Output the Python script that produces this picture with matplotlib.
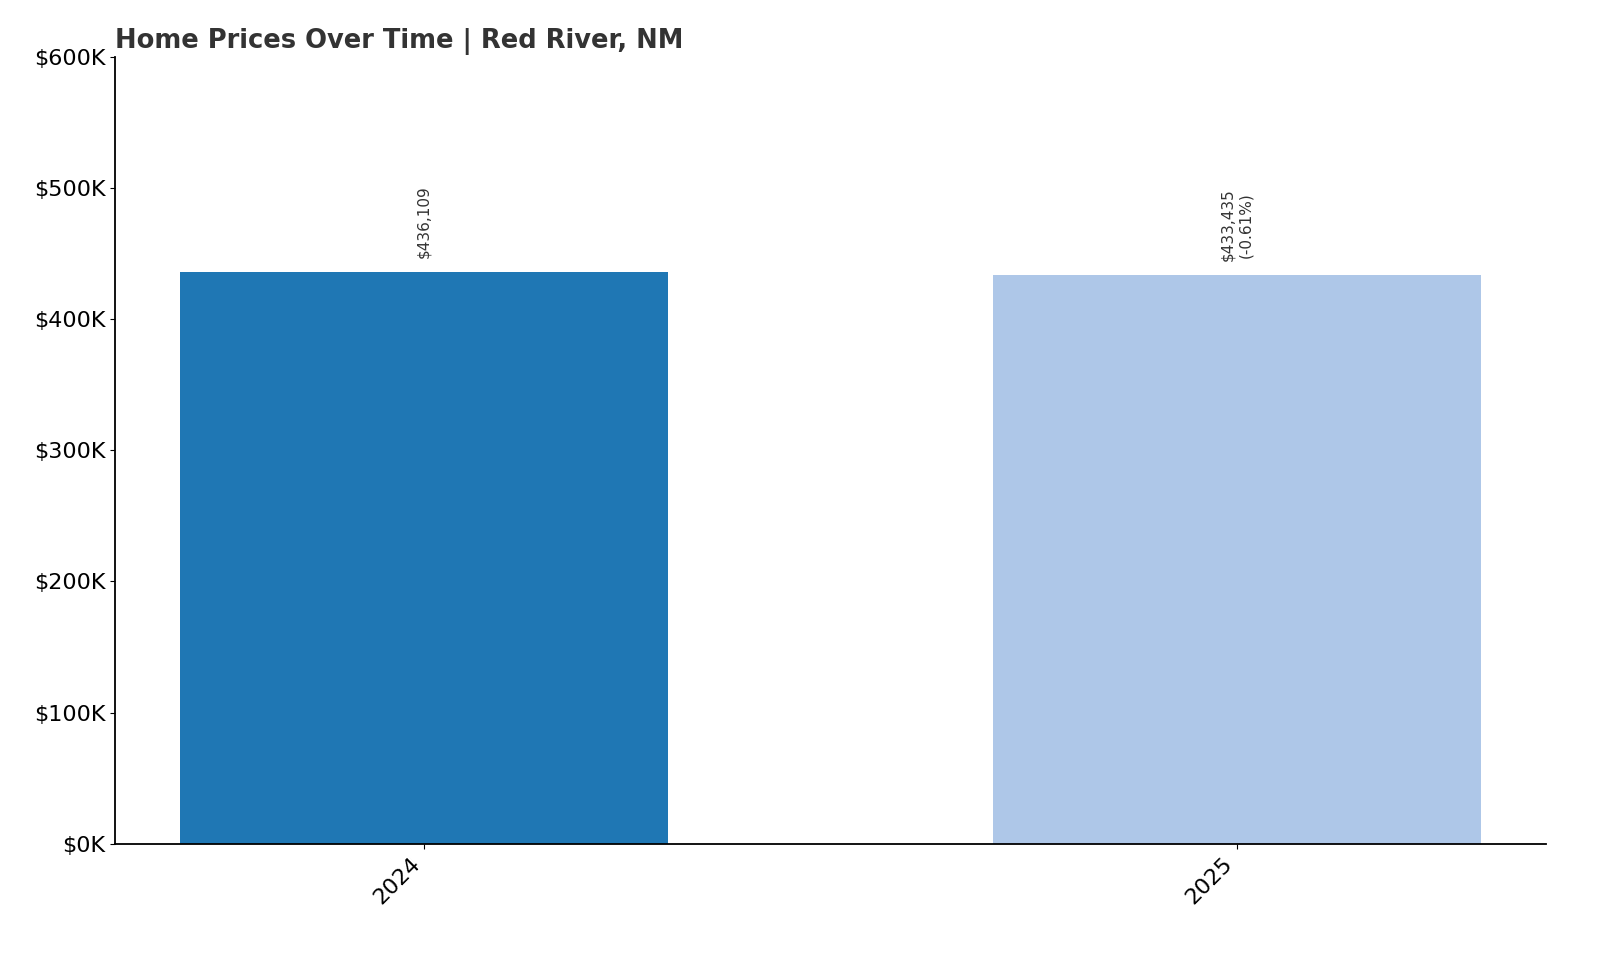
import matplotlib.pyplot as plt

# ---- Данные ----
years = ["2024", "2025"]
prices = [436109, 433435]
labels = ["$436,109", "$433,435\n(-0.61%)"]
colors = ["#1f77b4", "#aec7e8"]

fig = plt.figure(figsize=(16, 9.6), dpi=100)
ax = fig.add_axes([0.072, 0.121, 0.894, 0.82])

x = list(range(len(years)))
bars = ax.bar(x, prices, width=0.6, color=colors)

for b, txt in zip(bars, labels):
    ax.annotate(txt, (b.get_x() + b.get_width() / 2, b.get_height()),
                xytext=(0, 10), textcoords="offset points",
                ha="center", va="bottom", rotation=90, fontsize=11, color="#333333")

ax.set_ylim(0, 600000)
ax.set_yticks(range(0, 600001, 100000))
ax.set_yticklabels([f"${v // 1000}K" for v in range(0, 600001, 100000)], fontsize=16)
ax.set_xticks(x)
ax.set_xticklabels(years, rotation=45, ha="right", fontsize=16)
ax.spines["top"].set_visible(False)
ax.spines["right"].set_visible(False)
ax.spines["left"].set_linewidth(1.3)
ax.spines["bottom"].set_linewidth(1.3)

ax.set_title("Home Prices Over Time | Red River, NM", loc="left",
             fontsize=18.5, fontweight="bold", color="#333333")

fig.savefig("out.png")
